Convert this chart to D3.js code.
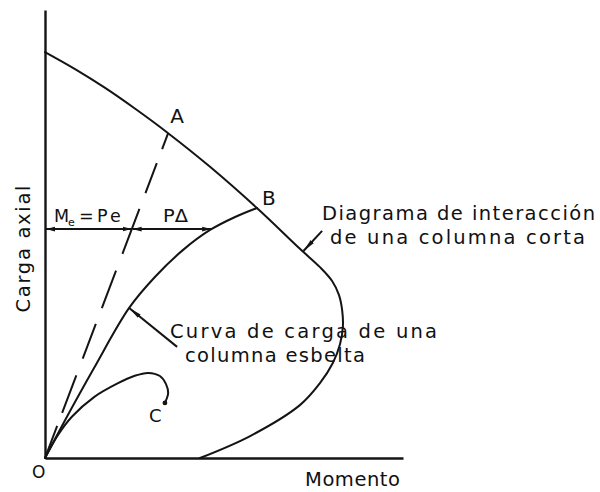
<!DOCTYPE html>
<html>
<head>
<meta charset="utf-8">
<script src="https://cdn.jsdelivr.net/npm/d3@7"></script>
<style>
  html, body { margin: 0; padding: 0; background: #fff; }
  svg { display: block; }
  text { font-family: "DejaVu Sans", "Liberation Sans", sans-serif; fill: #111; }
</style>
</head>
<body>
<svg id="chart" width="600" height="492"></svg>
<script>
// Interaction diagram of a short column: moment M vs axial load P
const interactionM = [0, 0.84, 1.68, 2.51, 3.44, 4.61, 5.92, 7.12, 7.68, 8.02, 8.21, 8.30, 8.32, 8.24, 8.04, 7.68, 7.12, 5.73, 4.33];
const interactionP = [9.06, 8.68, 8.26, 7.80, 7.25, 6.50, 5.58, 4.67, 4.26, 3.95, 3.64, 3.30, 2.92, 2.54, 2.12, 1.67, 1.18, 0.49, 0];

// Load path of a slender column, from O up to B on the diagram
const slenderM = [0, 0.53, 1.37, 2.35, 3.07, 3.85, 4.61, 5.31, 5.92];
const slenderP = [0, 0.80, 2.01, 3.35, 4.04, 4.64, 5.09, 5.38, 5.58];

// Load path ending in a stability failure at C
const instabilityM = [0, 0.36, 0.75, 1.37, 2.04, 2.49, 2.88, 3.21, 3.38, 3.44, 3.35];
const instabilityP = [0, 0.51, 0.92, 1.36, 1.67, 1.83, 1.90, 1.83, 1.65, 1.45, 1.23];

// First-order path with constant eccentricity, from A back to O
const firstOrderM = [3.44, 0];
const firstOrderP = [7.25, 0];

// Load level at which Me = Pe and PΔ are measured
const loadLevel = 5.11;
const momentFirstOrder = 2.42;
const momentTotal = 4.64;

const svg = d3.select("#chart");
const x = d3.scaleLinear().domain([0, 10]).range([45, 403]);
const y = d3.scaleLinear().domain([0, 10]).range([458, 10]);

const ink = "#141414";

// arrowheads
const defs = svg.append("defs");
defs.append("marker")
  .attr("id", "dim").attr("viewBox", "0 0 9 6").attr("refX", 9).attr("refY", 3)
  .attr("markerWidth", 9).attr("markerHeight", 6).attr("markerUnits", "userSpaceOnUse")
  .attr("orient", "auto-start-reverse")
  .append("path").attr("d", "M0,0.6L9,3L0,5.4Z").attr("fill", ink);
defs.append("marker")
  .attr("id", "pointer").attr("viewBox", "0 0 13 6").attr("refX", 13).attr("refY", 3)
  .attr("markerWidth", 13).attr("markerHeight", 6).attr("markerUnits", "userSpaceOnUse")
  .attr("orient", "auto")
  .append("path").attr("d", "M0,0.8L13,3L0,5.2Z").attr("fill", ink);

// axes without ticks
svg.append("g").attr("transform", `translate(0,${y(0)})`)
  .call(d3.axisBottom(x).tickValues([]).tickSizeOuter(0))
  .call(g => g.select(".domain").attr("stroke", ink).attr("stroke-width", 2.4));
svg.append("g").attr("transform", `translate(${x(0)},0)`)
  .call(d3.axisLeft(y).tickValues([]).tickSizeOuter(0))
  .call(g => g.select(".domain").attr("stroke", ink).attr("stroke-width", 2.4));

const zip = (a, b) => a.map((v, i) => [v, b[i]]);
const smooth = d3.line()
  .x(d => x(d[0])).y(d => y(d[1]))
  .curve(d3.curveCatmullRom.alpha(0.5));

const curves = svg.append("g").attr("fill", "none").attr("stroke", ink)
  .attr("stroke-width", 2).attr("stroke-linejoin", "round").attr("stroke-linecap", "round");

curves.append("path").attr("d", smooth(zip(interactionM, interactionP)));
curves.append("path").attr("d", smooth(zip(slenderM, slenderP)));
curves.append("path").attr("d", smooth(zip(instabilityM, instabilityP)));
curves.append("path")
  .attr("d", d3.line().x(d => x(d[0])).y(d => y(d[1]))(zip(firstOrderM, firstOrderP)))
  .attr("stroke-linecap", "butt")
  .attr("stroke-dasharray", "17,15,32,17,48,18,40,17,37,18,40,14,40,30");

// end dot of the instability path
const last = instabilityM.length - 1;
svg.append("circle")
  .attr("cx", x(instabilityM[last])).attr("cy", y(instabilityP[last]))
  .attr("r", 2.4).attr("fill", ink);

// Me = Pe and PΔ dimension arrows
const dims = svg.append("g").attr("stroke", ink).attr("stroke-width", 2);
dims.append("line")
  .attr("x1", x(0) + 1).attr("x2", x(momentFirstOrder))
  .attr("y1", y(loadLevel)).attr("y2", y(loadLevel))
  .attr("marker-start", "url(#dim)").attr("marker-end", "url(#dim)");
dims.append("line")
  .attr("x1", x(momentFirstOrder) + 1).attr("x2", x(momentTotal))
  .attr("y1", y(loadLevel)).attr("y2", y(loadLevel))
  .attr("marker-start", "url(#dim)").attr("marker-end", "url(#dim)");

// leader lines to the two curves
const leaders = [
  { from: [7.74, 5.07], to: [7.22, 4.62] },
  { from: [3.69, 2.48], to: [slenderM[3], slenderP[3]] }
];
svg.append("g").selectAll("line").data(leaders).join("line")
  .attr("x1", d => x(d.from[0])).attr("y1", d => y(d.from[1]))
  .attr("x2", d => x(d.to[0])).attr("y2", d => y(d.to[1]))
  .attr("stroke", ink).attr("stroke-width", 2)
  .attr("marker-end", "url(#pointer)");

// point labels
svg.append("text").attr("x", x(firstOrderM[0]) + 2).attr("y", y(firstOrderP[0]) - 10)
  .attr("font-size", 20).text("A");
svg.append("text").attr("x", x(slenderM[slenderM.length - 1]) + 5).attr("y", y(slenderP[slenderP.length - 1]) - 3)
  .attr("font-size", 20).text("B");
svg.append("text").attr("x", x(instabilityM[last]) - 16).attr("y", y(instabilityP[last]) + 19)
  .attr("font-size", 18).text("C");
svg.append("text").attr("x", 32).attr("y", 478).attr("font-size", 17).text("O");

// Me = Pe label
const me = svg.append("text").attr("y", y(loadLevel) - 7).attr("font-size", 17.5);
me.append("tspan").attr("x", 54).text("M");
me.append("tspan").attr("x", 68).attr("dy", 4).attr("font-size", 11).text("e");
me.append("tspan").attr("x", 79).attr("dy", -4).text("=");
me.append("tspan").attr("x", 97).text("P");
me.append("tspan").attr("x", 110).text("e");

svg.append("text").attr("x", 163).attr("y", y(loadLevel) - 7).attr("font-size", 17.5)
  .attr("textLength", 25).attr("lengthAdjust", "spacingAndGlyphs").text("PΔ");

// descriptive labels
const notes = [
  { t: "Diagrama de interacción", x: 322, y: 220, w: 273 },
  { t: "de una columna corta",    x: 330, y: 244, w: 255 },
  { t: "Curva de carga de una",   x: 170, y: 338, w: 267 },
  { t: "columna esbelta",         x: 185, y: 362, w: 180 },
  { t: "Momento",                 x: 305, y: 486, w: 95 }
];
svg.append("g").selectAll("text").data(notes).join("text")
  .attr("x", d => d.x).attr("y", d => d.y)
  .attr("font-size", 19.5)
  .attr("textLength", d => d.w).attr("lengthAdjust", "spacing")
  .text(d => d.t);

svg.append("text")
  .attr("transform", "translate(30,249) rotate(-90)")
  .attr("text-anchor", "middle").attr("font-size", 19.5)
  .attr("textLength", 127).attr("lengthAdjust", "spacing")
  .text("Carga axial");
</script>
</body>
</html>
